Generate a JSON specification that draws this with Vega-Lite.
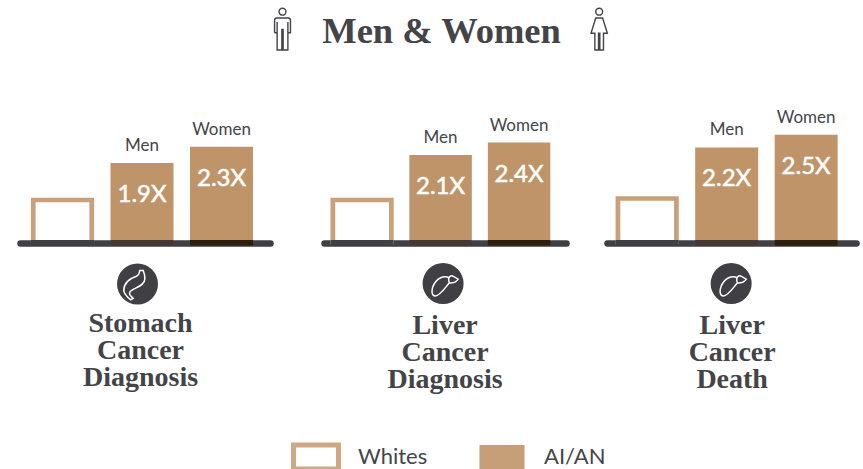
{
  "$schema": "https://vega.github.io/schema/vega-lite/v6.json",
  "padding": {"left": 0, "right": 0, "top": 5, "bottom": 0},
  "background": "white",
  "title": {"text": "Men & Women", "font": "Liberation Serif", "fontWeight": "bold", "fontSize": 36.5, "color": "#444448", "anchor": "middle", "dx": 10, "offset": -45},
  "datasets": {
    "rows": [
      {"panel": "stomach", "bar": "Whites", "series": "Whites", "value": 1},
      {"panel": "stomach", "bar": "Men", "series": "AI/AN", "value": 1.9, "label": "1.9X"},
      {"panel": "stomach", "bar": "Women", "series": "AI/AN", "value": 2.3, "label": "2.3X"},
      {"panel": "stomach", "bar": "Men", "value": 0, "caption": ["Stomach", "Cancer", "Diagnosis"]},
      {"panel": "stomach", "bar": "Women", "value": 0, "figure": "man"},
      {"panel": "liverDx", "bar": "Whites", "series": "Whites", "value": 1},
      {"panel": "liverDx", "bar": "Men", "series": "AI/AN", "value": 2.1, "label": "2.1X"},
      {"panel": "liverDx", "bar": "Women", "series": "AI/AN", "value": 2.4, "label": "2.4X"},
      {"panel": "liverDx", "bar": "Men", "value": 0, "caption": ["Liver", "Cancer", "Diagnosis"]},
      {"panel": "liverDeath", "bar": "Whites", "series": "Whites", "value": 1},
      {"panel": "liverDeath", "bar": "Men", "series": "AI/AN", "value": 2.2, "label": "2.2X"},
      {"panel": "liverDeath", "bar": "Women", "series": "AI/AN", "value": 2.5, "label": "2.5X"},
      {"panel": "liverDeath", "bar": "Men", "value": 0, "caption": ["Liver", "Cancer", "Death"]},
      {"panel": "liverDeath", "bar": "Whites", "value": 0, "figure": "woman"}
    ]
  },
  "config": {
    "view": {"stroke": null},
    "axisX": {"domainWidth": 6.5, "domainColor": "#3f3f44", "domainCap": "round", "ticks": false, "labels": false, "title": null, "grid": false, "offset": -3}
  },
  "spacing": 0,
  "hconcat": [
    {
      "width": 300,
      "height": 200,
      "data": {"name": "rows"},
      "transform": [{"filter": "datum.panel === 'stomach'"}],
      "encoding": {
        "x": {"field": "bar", "type": "nominal", "axis": {}, "sort": ["Whites", "Men", "Women"],
          "scale": {"domain": ["Whites", "Men", "Women"], "range": [20, 270], "paddingInner": 0.2075, "paddingOuter": 0.176, "align": 0.393}},
        "y": {"field": "value", "type": "quantitative", "stack": null, "axis": null, "scale": {"domain": [-0.122, 4.756], "nice": false, "zero": false}}
      },
      "layer": [
        {
          "transform": [{"filter": "datum.series === 'Whites'"}],
          "mark": {"type": "bar", "size": 58.5, "strokeWidth": 4.7},
          "encoding": {
            "y2": {"datum": -0.03},
            "fill": {"field": "series", "type": "nominal", "scale": {"domain": ["Whites", "AI/AN"], "range": ["#ffffff", "#c09469"]},
              "legend": {"title": null, "orient": "none", "legendX": 291, "legendY": 386, "direction": "horizontal", "symbolType": "M-1,-0.53H1V0.53H-1Z", "symbolSize": 2025, "symbolStrokeWidth": 5, "symbolOpacity": 0.9, "labelFont": "Lato", "labelFontSize": 22, "labelColor": "#444448", "labelOffset": 17, "columnPadding": 41}},
            "stroke": {"field": "series", "type": "nominal", "scale": {"domain": ["Whites", "AI/AN"], "range": ["#c9a077", "transparent"]}}
          }
        },
        {
          "transform": [{"filter": "datum.series === 'AI/AN'"}],
          "mark": {"type": "bar"},
          "encoding": {
            "y2": {"datum": 0},
            "fill": {"field": "series", "type": "nominal"},
            "stroke": {"field": "series", "type": "nominal"}
          }
        },
        {
          "transform": [{"filter": "isValid(datum.series)"}],
          "mark": {"type": "bar"},
          "encoding": {
            "y": {"datum": 0.025},
            "y2": {"datum": -0.11},
            "fill": {"condition": [{"test": "datum.bar === 'Women'", "value": "#2e1e0f"}, {"test": "datum.bar === 'Men'", "value": "#453a33"}], "value": "#3f3f44"}
          }
        },
        {
          "transform": [{"filter": "datum.series === 'AI/AN'"}],
          "mark": {"type": "text", "baseline": "bottom", "dy": -8, "font": "Lato", "fontSize": 17, "color": "#444448"},
          "encoding": {"text": {"field": "bar"}}
        },
        {
          "transform": [{"filter": "datum.series === 'AI/AN'"}],
          "mark": {"type": "text", "baseline": "middle", "dy": 32, "font": "Lato", "fontSize": 24, "color": "white", "stroke": "white", "strokeWidth": 0.5},
          "encoding": {"text": {"field": "label"}}
        },
        {
          "transform": [{"filter": "isValid(datum.caption)"}],
          "mark": {"type": "text", "baseline": "top", "align": "center", "lineHeight": 27, "dx": -1.5, "dy": 69, "font": "Liberation Serif", "fontWeight": "bold", "fontSize": 28, "color": "#444448"},
          "encoding": {"text": {"field": "caption"}}
        },
        {
          "transform": [{"filter": "isValid(datum.caption)"}],
          "mark": {"type": "point", "shape": "circle", "filled": true, "opacity": 1, "size": 1681, "color": "#3f3f44", "xOffset": -4.5, "yOffset": 43}
        },
        {
          "transform": [{"filter": "isValid(datum.caption)"}],
          "mark": {"type": "point", "shape": "M0.11,-0.66Q0.08,-0.42,-0.05,-0.38C-0.3,-0.3,-0.67,-0.1,-0.67,0.33Q-0.64,0.5,-0.34,0.77L-0.21,0.7Q-0.44,0.5,-0.38,0.41C-0.3,0.2,0.36,0.15,0.36,-0.25Q0.36,-0.45,0.28,-0.66Z", "filled": false, "opacity": 1, "size": 1681, "stroke": "white", "strokeWidth": 1.5, "xOffset": -4.5, "yOffset": 43}
        },
        {
          "transform": [{"filter": "datum.figure === 'man'"}],
          "mark": {"type": "point", "shape": "M-0.16,-0.78A0.16,0.16,0,1,0,0.16,-0.78A0.16,0.16,0,1,0,-0.16,-0.78ZM-0.37,0.2V-0.38Q-0.37,-0.49,-0.26,-0.49H0.26Q0.37,-0.49,0.37,-0.38V0.2H0.25V-0.3M0.25,0.2V1H0.03V0.05H-0.03V1H-0.25V-0.3M-0.25,0.2H-0.37", "filled": false, "opacity": 1, "size": 1849, "stroke": "#444448", "strokeWidth": 1.4, "xOffset": 61, "yOffset": -212.5}
        }
      ]
    },
    {
      "width": 285,
      "height": 200,
      "data": {"name": "rows"},
      "transform": [{"filter": "datum.panel === 'liverDx'"}],
      "encoding": {
        "x": {"field": "bar", "type": "nominal", "axis": {}, "sort": ["Whites", "Men", "Women"],
          "scale": {"domain": ["Whites", "Men", "Women"], "range": [24, 266], "paddingInner": 0.204, "paddingOuter": 0.1435, "align": 0.304}},
        "y": {"field": "value", "type": "quantitative", "stack": null, "axis": null, "scale": {"domain": [-0.122, 4.756], "nice": false, "zero": false}}
      },
      "layer": [
        {
          "transform": [{"filter": "datum.series === 'Whites'"}],
          "mark": {"type": "bar", "size": 58.5, "strokeWidth": 4.7},
          "encoding": {
            "y2": {"datum": -0.03},
            "fill": {"field": "series", "type": "nominal", "scale": {"domain": ["Whites", "AI/AN"], "range": ["#ffffff", "#c09469"]}, "legend": null},
            "stroke": {"field": "series", "type": "nominal", "scale": {"domain": ["Whites", "AI/AN"], "range": ["#c9a077", "transparent"]}, "legend": null}
          }
        },
        {
          "transform": [{"filter": "datum.series === 'AI/AN'"}],
          "mark": {"type": "bar"},
          "encoding": {
            "y2": {"datum": 0},
            "fill": {"field": "series", "type": "nominal", "legend": null},
            "stroke": {"field": "series", "type": "nominal", "legend": null}
          }
        },
        {
          "transform": [{"filter": "isValid(datum.series)"}],
          "mark": {"type": "bar"},
          "encoding": {
            "y": {"datum": 0.025},
            "y2": {"datum": -0.11},
            "fill": {"condition": [{"test": "datum.bar === 'Women'", "value": "#2e1e0f"}, {"test": "datum.bar === 'Men'", "value": "#453a33"}], "value": "#3f3f44"}
          }
        },
        {
          "transform": [{"filter": "datum.series === 'AI/AN'"}],
          "mark": {"type": "text", "baseline": "bottom", "dy": -8, "font": "Lato", "fontSize": 17, "color": "#444448"},
          "encoding": {"text": {"field": "bar"}}
        },
        {
          "transform": [{"filter": "datum.series === 'AI/AN'"}],
          "mark": {"type": "text", "baseline": "middle", "dy": 32, "font": "Lato", "fontSize": 24, "color": "white", "stroke": "white", "strokeWidth": 0.5},
          "encoding": {"text": {"field": "label"}}
        },
        {
          "transform": [{"filter": "isValid(datum.caption)"}],
          "mark": {"type": "text", "baseline": "top", "align": "center", "lineHeight": 27, "dx": 4.5, "dy": 71, "font": "Liberation Serif", "fontWeight": "bold", "fontSize": 28, "color": "#444448"},
          "encoding": {"text": {"field": "caption"}}
        },
        {
          "transform": [{"filter": "isValid(datum.caption)"}],
          "mark": {"type": "point", "shape": "circle", "filled": true, "opacity": 1, "size": 1681, "color": "#3f3f44", "xOffset": 2.5, "yOffset": 42.5}
        },
        {
          "transform": [{"filter": "isValid(datum.caption)"}],
          "mark": {"type": "point", "shape": "M-0.54,0.41C-0.54,0.05,-0.25,-0.33,0.1,-0.33Q0.2,-0.33,0.28,-0.28Q0.38,-0.42,0.5,-0.35L0.74,-0.21Q0.6,0,0.3,-0.02C0.1,0.2,-0.15,0.6,-0.38,0.61Q-0.52,0.6,-0.54,0.41ZM0.28,-0.28Q0.25,-0.15,0.3,-0.02", "filled": false, "opacity": 1, "size": 1681, "stroke": "white", "strokeWidth": 1.5, "xOffset": 2.5, "yOffset": 42.5}
        }
      ]
    },
    {
      "width": 278,
      "height": 200,
      "data": {"name": "rows"},
      "transform": [{"filter": "datum.panel === 'liverDeath'"}],
      "encoding": {
        "x": {"field": "bar", "type": "nominal", "axis": {}, "sort": ["Whites", "Men", "Women"],
          "scale": {"domain": ["Whites", "Men", "Women"], "range": [22, 271], "paddingInner": 0.2075, "paddingOuter": 0.17, "align": 0.321}},
        "y": {"field": "value", "type": "quantitative", "stack": null, "axis": null, "scale": {"domain": [-0.118, 4.588], "nice": false, "zero": false}}
      },
      "layer": [
        {
          "transform": [{"filter": "datum.series === 'Whites'"}],
          "mark": {"type": "bar", "size": 58.5, "strokeWidth": 4.7},
          "encoding": {
            "y2": {"datum": -0.03},
            "fill": {"field": "series", "type": "nominal", "scale": {"domain": ["Whites", "AI/AN"], "range": ["#ffffff", "#c09469"]}, "legend": null},
            "stroke": {"field": "series", "type": "nominal", "scale": {"domain": ["Whites", "AI/AN"], "range": ["#c9a077", "transparent"]}, "legend": null}
          }
        },
        {
          "transform": [{"filter": "datum.series === 'AI/AN'"}],
          "mark": {"type": "bar"},
          "encoding": {
            "y2": {"datum": 0},
            "fill": {"field": "series", "type": "nominal", "legend": null},
            "stroke": {"field": "series", "type": "nominal", "legend": null}
          }
        },
        {
          "transform": [{"filter": "isValid(datum.series)"}],
          "mark": {"type": "bar"},
          "encoding": {
            "y": {"datum": 0.025},
            "y2": {"datum": -0.11},
            "fill": {"condition": [{"test": "datum.bar === 'Women'", "value": "#2e1e0f"}, {"test": "datum.bar === 'Men'", "value": "#453a33"}], "value": "#3f3f44"}
          }
        },
        {
          "transform": [{"filter": "datum.series === 'AI/AN'"}],
          "mark": {"type": "text", "baseline": "bottom", "dy": -8, "font": "Lato", "fontSize": 17, "color": "#444448"},
          "encoding": {"text": {"field": "bar"}}
        },
        {
          "transform": [{"filter": "datum.series === 'AI/AN'"}],
          "mark": {"type": "text", "baseline": "middle", "dy": 32, "font": "Lato", "fontSize": 24, "color": "white", "stroke": "white", "strokeWidth": 0.5},
          "encoding": {"text": {"field": "label"}}
        },
        {
          "transform": [{"filter": "isValid(datum.caption)"}],
          "mark": {"type": "text", "baseline": "top", "align": "center", "lineHeight": 27, "dx": 5.5, "dy": 71, "font": "Liberation Serif", "fontWeight": "bold", "fontSize": 28, "color": "#444448"},
          "encoding": {"text": {"field": "caption"}}
        },
        {
          "transform": [{"filter": "isValid(datum.caption)"}],
          "mark": {"type": "point", "shape": "circle", "filled": true, "opacity": 1, "size": 1681, "color": "#3f3f44", "xOffset": 4.5, "yOffset": 42.5}
        },
        {
          "transform": [{"filter": "isValid(datum.caption)"}],
          "mark": {"type": "point", "shape": "M-0.54,0.41C-0.54,0.05,-0.25,-0.33,0.1,-0.33Q0.2,-0.33,0.28,-0.28Q0.38,-0.42,0.5,-0.35L0.74,-0.21Q0.6,0,0.3,-0.02C0.1,0.2,-0.15,0.6,-0.38,0.61Q-0.52,0.6,-0.54,0.41ZM0.28,-0.28Q0.25,-0.15,0.3,-0.02", "filled": false, "opacity": 1, "size": 1681, "stroke": "white", "strokeWidth": 1.5, "xOffset": 4.5, "yOffset": 42.5}
        },
        {
          "transform": [{"filter": "datum.figure === 'woman'"}],
          "mark": {"type": "point", "shape": "M-0.16,-0.78A0.16,0.16,0,1,0,0.16,-0.78A0.16,0.16,0,1,0,-0.16,-0.78ZM-0.16,-0.49H0.16L0.38,0.22H0.2V1H0.03V0.22H-0.03V1H-0.2V0.22H-0.38Z", "filled": false, "opacity": 1, "size": 1849, "stroke": "#444448", "strokeWidth": 1.4, "xOffset": -48, "yOffset": -212.5}
        }
      ]
    }
  ]
}
